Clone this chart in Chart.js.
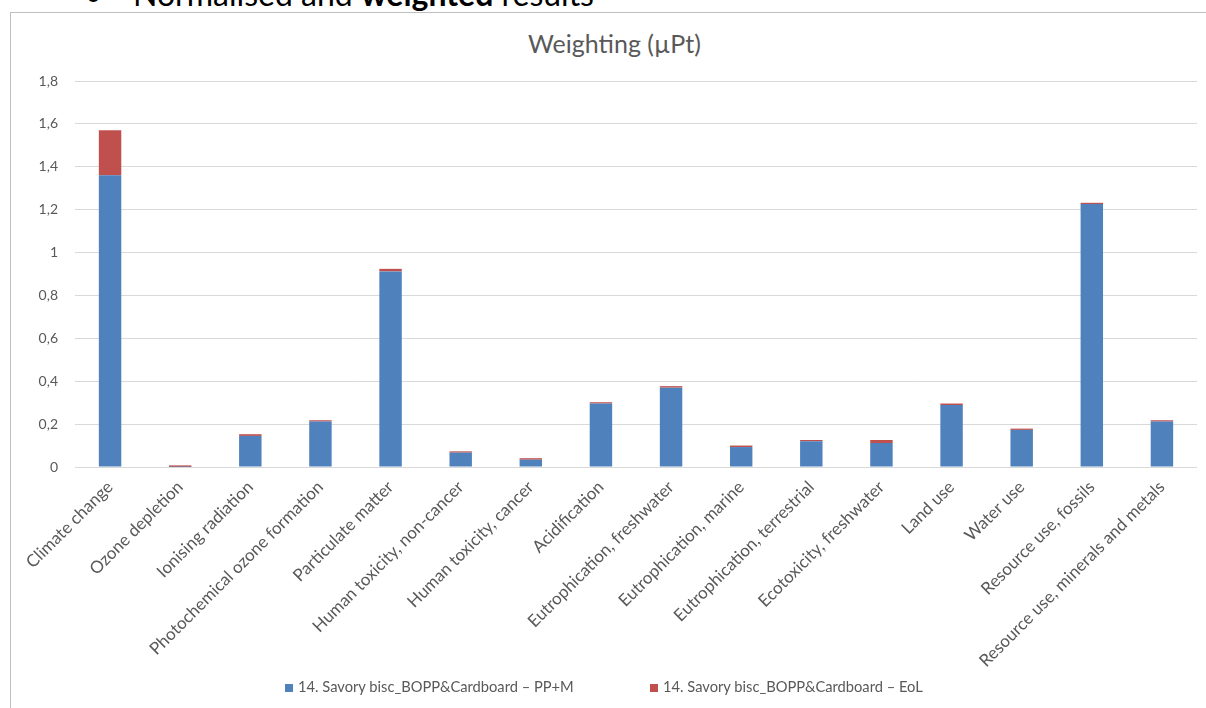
<!DOCTYPE html>
<html lang="en">
<head>
<meta charset="UTF-8">
<title>Weighting (µPt)</title>
<script src="https://cdn.jsdelivr.net/npm/chart.js"></script>
<style>
  html, body { margin: 0; padding: 0; background: #fff; }
  body { width: 1206px; height: 708px; position: relative; overflow: hidden; font-family: Lato, "Open Sans", sans-serif; }
  #heading { position: absolute; top: -22px; left: 0; font-size: 32px; color: #000; white-space: nowrap; line-height: 1; }
  #heading .bullet { position: absolute; left: 84px; }
  #heading .txt { position: absolute; left: 133px; }
  #frame { position: absolute; left: 10px; top: 12px; width: 1220px; height: 720px; border: 1px solid #BFBFBF; box-sizing: border-box; }
  #chart { position: absolute; left: 0; top: 0; }
  #title { position: absolute; left: 0; width: 1229px; top: 31px; text-align: center; font-size: 25px; color: #595959; line-height: 1; }
  #legend { position: absolute; left: 0; top: 677px; height: 18px; font-size: 14.7px; color: #595959; }
  #legend .item { position: absolute; top: 0; white-space: nowrap; line-height: 18px; }
  #legend .box { display: inline-block; width: 8px; height: 8px; margin-right: 5px; vertical-align: 0px; }
</style>
</head>
<body>
<div id="heading"><span class="bullet">•</span><span class="txt">Normalised and <b>weighted</b> results</span></div>
<div id="frame"></div>
<div id="title">Weighting (µPt)</div>
<canvas id="chart" width="1206" height="708"></canvas>
<div id="legend"></div>
<script>
  const categories = [
    'Climate change', 'Ozone depletion', 'Ionising radiation', 'Photochemical ozone formation',
    'Particulate matter', 'Human toxicity, non-cancer', 'Human toxicity, cancer', 'Acidification',
    'Eutrophication, freshwater', 'Eutrophication, marine', 'Eutrophication, terrestrial',
    'Ecotoxicity, freshwater', 'Land use', 'Water use', 'Resource use, fossils',
    'Resource use, minerals and metals'
  ];
  const ppmValues = [1.36, 0.0005, 0.145, 0.212, 0.912, 0.067, 0.034, 0.296, 0.370, 0.093, 0.120, 0.112, 0.289, 0.173, 1.226, 0.212];
  const eolValues = [0.21, 0.007, 0.008, 0.006, 0.012, 0.006, 0.007, 0.006, 0.007, 0.007, 0.006, 0.014, 0.007, 0.006, 0.006, 0.006];
  const yTickLabels = ['0', '0,2', '0,4', '0,6', '0,8', '1', '1,2', '1,4', '1,6', '1,8'];
  const seriesNames = ['14. Savory bisc_BOPP&Cardboard – PP+M', '14. Savory bisc_BOPP&Cardboard – EoL'];
  const seriesColors = ['#4F81BD', '#C0504D'];
  const legendX = [285, 650];

  const chart = new Chart(document.getElementById('chart').getContext('2d'), {
    type: 'bar',
    data: {
      labels: categories,
      datasets: [
        { label: seriesNames[0], data: ppmValues, backgroundColor: seriesColors[0], barPercentage: 0.32, categoryPercentage: 1 },
        { label: seriesNames[1], data: eolValues, backgroundColor: seriesColors[1], barPercentage: 0.32, categoryPercentage: 1 }
      ]
    },
    options: {
      responsive: false,
      animation: false,
      layout: { padding: { left: 0, top: 81, right: 9, bottom: 41 } },
      plugins: {
        legend: { display: false },
        title: { display: false },
        tooltip: { enabled: false }
      },
      scales: {
        x: {
          stacked: true,
          grid: { display: false },
          border: { display: false },
          ticks: { color: '#595959', font: { family: 'Lato', size: 17 }, minRotation: 45, maxRotation: 45, autoSkip: false, padding: 2 },
          afterFit: function (scale) { scale.height = 200; }
        },
        y: {
          stacked: true,
          min: 0,
          max: 1.8,
          grid: { color: '#D9D9D9', drawTicks: false },
          border: { display: false },
          ticks: {
            stepSize: 0.2,
            color: '#595959',
            font: { family: 'Lato', size: 14 },
            padding: 17,
            callback: function (value, index) { return yTickLabels[index]; }
          },
          afterFit: function (scale) { scale.width = 75; }
        }
      }
    }
  });

  // legend as plain html under the chart
  const legend = document.getElementById('legend');
  chart.data.datasets.forEach((ds, i) => {
    const item = document.createElement('div');
    item.className = 'item';
    item.style.left = legendX[i] + 'px';
    item.innerHTML = '<span class="box" style="background:' + ds.backgroundColor + '"></span>';
    item.appendChild(document.createTextNode(ds.label));
    legend.appendChild(item);
  });
</script>
</body>
</html>
